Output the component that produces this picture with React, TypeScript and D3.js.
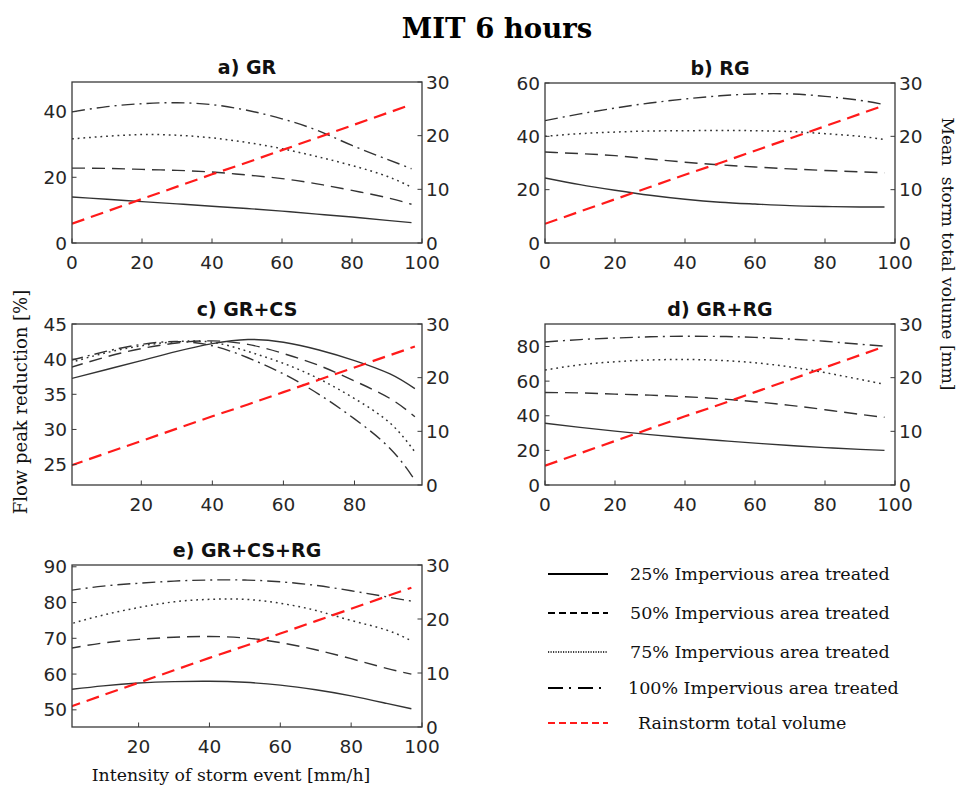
import React from 'react';
import * as d3 from 'd3';

// Intensity of storm event [mm/h]
const INTENSITY = [0, 10, 20, 30, 40, 50, 60, 70, 80, 90, 97];
// Mean storm total volume [mm] (right axis)
const RAIN_VOLUME = [3.6, 5.9, 8.2, 10.5, 12.8, 15.0, 17.3, 19.6, 21.9, 24.2, 25.8];

// a) GR
const GR_25 = [14.0, 13.3, 12.6, 11.9, 11.2, 10.5, 9.7, 8.8, 7.9, 6.9, 6.2];
const GR_50 = [22.8, 22.7, 22.4, 22.1, 21.6, 20.7, 19.6, 18.0, 16.0, 13.8, 11.8];
const GR_75 = [31.7, 32.5, 33.0, 32.8, 32.0, 30.6, 28.7, 26.3, 23.6, 20.3, 17.0];
const GR_100 = [39.9, 41.5, 42.4, 42.7, 42.1, 40.4, 37.8, 34.3, 29.7, 25.5, 22.6];
// b) RG
const RG_25 = [24.4, 21.9, 19.8, 17.9, 16.4, 15.3, 14.6, 14.0, 13.7, 13.5, 13.5];
const RG_50 = [34.1, 33.5, 32.75, 31.5, 30.3, 29.3, 28.5, 27.8, 27.2, 26.7, 26.3];
const RG_75 = [40.0, 41.0, 41.6, 42.0, 42.1, 42.2, 42.1, 41.8, 41.0, 40.0, 38.8];
const RG_100 = [45.9, 48.4, 50.6, 52.5, 54.0, 55.2, 55.9, 55.9, 55.0, 53.5, 51.9];
// c) GR+CS
const GRCS_25 = [37.2, 38.5, 39.8, 41.1, 42.2, 42.8, 42.4, 41.3, 39.8, 37.9, 35.8];
const GRCS_50 = [38.8, 40.3, 41.5, 42.3, 42.6, 42.1, 40.8, 39.1, 36.9, 34.4, 31.8];
const GRCS_75 = [39.5, 40.9, 41.9, 42.5, 42.4, 41.1, 39.4, 37.2, 34.4, 30.9, 26.8];
const GRCS_100 = [39.8, 41.1, 42.1, 42.5, 41.9, 40.2, 37.9, 35.0, 31.5, 27.3, 22.8];
// d) GR+RG
const GRRG_25 = [35.7, 33.3, 31.1, 29.1, 27.3, 25.7, 24.2, 22.8, 21.6, 20.6, 20.0];
const GRRG_50 = [53.4, 53.2, 52.5, 51.9, 51.0, 49.8, 48.1, 46.0, 43.5, 40.8, 39.1];
const GRRG_75 = [66.4, 69.4, 71.2, 72.2, 72.5, 72.0, 70.6, 68.2, 64.9, 61.0, 58.2];
const GRRG_100 = [82.6, 84.0, 84.9, 85.6, 85.9, 85.8, 85.3, 84.3, 83.0, 81.3, 80.2];
// e) GR+CS+RG
const GRCSRG_25 = [55.6, 56.7, 57.5, 57.9, 58.0, 57.7, 56.9, 55.6, 53.9, 51.8, 50.3];
const GRCSRG_50 = [67.1, 68.7, 69.7, 70.3, 70.5, 70.1, 68.8, 66.8, 64.3, 61.6, 60.0];
const GRCSRG_75 = [73.8, 76.5, 78.6, 80.2, 80.9, 80.9, 79.8, 77.8, 75.0, 72.3, 69.3];
const GRCSRG_100 = [83.3, 84.6, 85.4, 86.0, 86.3, 86.3, 85.8, 84.8, 83.3, 81.6, 80.4];

const LEGEND_LABELS = [
  '25% Impervious area treated',
  '50% Impervious area treated',
  '75% Impervious area treated',
  '100% Impervious area treated',
  'Rainstorm total volume',
];
const RIGHT_TICKS = [0, 10, 20, 30];

const STYLES = [
  { dash: undefined as string | undefined, w: 1.4 },
  { dash: '13,7', w: 1.4 },
  { dash: '1.8,3.9', w: 1.5 },
  { dash: '13,5,2,5', w: 1.4 },
];
const LEGEND_DASH = [undefined, '7,4', '1.2,1.3', '15,6,2,7', '7,4'];

const CURVE_COLOR = '#333333';
const AXIS_COLOR = '#3a3a3a';
const TICK_TEXT = '#262626';
const SANS = 'DejaVu Sans, Liberation Sans, sans-serif';
const SERIF = 'DejaVu Serif, Liberation Serif, serif';

type Box = { l: number; r: number; t: number; b: number };

function Panel(props: {
  id: string;
  box: Box;
  title: string;
  series: number[][];
  yDomain: [number, number];
  yTicks: number[];
  xDomain: [number, number];
  xTicks: number[];
}) {
  const { id, box, title, series, yDomain, yTicks, xDomain, xTicks } = props;
  const x = d3.scaleLinear().domain(xDomain).range([box.l, box.r]);
  const y = d3.scaleLinear().domain(yDomain).range([box.b, box.t]);
  const y2 = d3.scaleLinear().domain([0, 30]).range([box.b, box.t]);
  const line = d3
    .line<number>()
    .x((_, i) => x(INTENSITY[i]))
    .y((d) => y(d))
    .curve(d3.curveNatural);
  const rainLine = d3
    .line<number>()
    .x((_, i) => x(INTENSITY[i]))
    .y((d) => y2(d));
  const tick = 4.5;
  return (
    <g>
      <defs>
        <clipPath id={`clip-${id}`}>
          <rect x={box.l} y={box.t} width={box.r - box.l} height={box.b - box.t} />
        </clipPath>
      </defs>
      <text
        x={(box.l + box.r) / 2}
        y={box.t - 8}
        textAnchor="middle"
        fontFamily={SANS}
        fontWeight="bold"
        fontSize={19}
        fill="#111"
      >
        {title}
      </text>
      <g clipPath={`url(#clip-${id})`}>
        {series.map((s, k) => (
          <path
            key={k}
            d={line(s) || ''}
            fill="none"
            stroke={CURVE_COLOR}
            strokeWidth={STYLES[k].w}
            strokeDasharray={STYLES[k].dash}
          />
        ))}
        <path d={rainLine(RAIN_VOLUME) || ''} fill="none" stroke="#ff1a1a" strokeWidth={2.2} strokeDasharray="13,7" />
      </g>
      <rect
        x={box.l}
        y={box.t}
        width={box.r - box.l}
        height={box.b - box.t}
        fill="none"
        stroke={AXIS_COLOR}
        strokeWidth={1.3}
      />
      {yTicks.map((v) => (
        <g key={`yl${v}`}>
          <line x1={box.l} x2={box.l + tick} y1={y(v)} y2={y(v)} stroke={AXIS_COLOR} strokeWidth={1} />
          <text
            x={box.l - 5}
            y={y(v)}
            dy="0.36em"
            textAnchor="end"
            fontFamily={SANS}
            fontSize={18.5}
            fill={TICK_TEXT}
          >
            {v}
          </text>
        </g>
      ))}
      {RIGHT_TICKS.map((v) => (
        <g key={`yr${v}`}>
          <line x1={box.r} x2={box.r - tick} y1={y2(v)} y2={y2(v)} stroke={AXIS_COLOR} strokeWidth={1} />
          <text
            x={box.r + 4}
            y={y2(v)}
            dy="0.36em"
            textAnchor="start"
            fontFamily={SANS}
            fontSize={18.5}
            fill={TICK_TEXT}
          >
            {v}
          </text>
        </g>
      ))}
      {xTicks.map((v) => (
        <g key={`x${v}`}>
          <line x1={x(v)} x2={x(v)} y1={box.b} y2={box.b - tick} stroke={AXIS_COLOR} strokeWidth={1} />
          <text
            x={x(v)}
            y={box.b + 25.5}
            textAnchor="middle"
            fontFamily={SANS}
            fontSize={18.5}
            fill={TICK_TEXT}
          >
            {v}
          </text>
        </g>
      ))}
    </g>
  );
}

export default function App() {
  const W = 962;
  const H = 789;
  const legendYs = [574, 613, 652, 688, 723];
  const legendTextX = [630, 630, 630, 628, 638];
  return (
    <svg
      width={W}
      height={H}
      viewBox={`0 0 ${W} ${H}`}
      style={{ position: 'absolute', left: 0, top: 0, background: '#fff' }}
    >
      <rect width={W} height={H} fill="#fff" />
      <text x={497} y={38} textAnchor="middle" fontFamily={SERIF} fontWeight="bold" fontSize={27.5} fill="#000">
        MIT 6 hours
      </text>
      <Panel
        id="a"
        box={{ l: 72, r: 422, t: 82, b: 243 }}
        title="a) GR"
        series={[GR_25, GR_50, GR_75, GR_100]}
        yDomain={[0, 49]}
        yTicks={[0, 20, 40]}
        xDomain={[0, 100]}
        xTicks={[0, 20, 40, 60, 80, 100]}
      />
      <Panel
        id="b"
        box={{ l: 545, r: 895, t: 83, b: 243 }}
        title="b) RG"
        series={[RG_25, RG_50, RG_75, RG_100]}
        yDomain={[0, 60]}
        yTicks={[0, 20, 40, 60]}
        xDomain={[0, 100]}
        xTicks={[0, 20, 40, 60, 80, 100]}
      />
      <Panel
        id="c"
        box={{ l: 72, r: 422, t: 324, b: 485 }}
        title="c) GR+CS"
        series={[GRCS_25, GRCS_50, GRCS_75, GRCS_100]}
        yDomain={[22.1, 45]}
        yTicks={[25, 30, 35, 40, 45]}
        xDomain={[0.5, 99]}
        xTicks={[20, 40, 60, 80]}
      />
      <Panel
        id="d"
        box={{ l: 545, r: 895, t: 324, b: 485 }}
        title="d) GR+RG"
        series={[GRRG_25, GRRG_50, GRRG_75, GRRG_100]}
        yDomain={[0, 93]}
        yTicks={[0, 20, 40, 60, 80]}
        xDomain={[0, 100]}
        xTicks={[0, 20, 40, 60, 80, 100]}
      />
      <Panel
        id="e"
        box={{ l: 72, r: 422, t: 565, b: 727 }}
        title="e) GR+CS+RG"
        series={[GRCSRG_25, GRCSRG_50, GRCSRG_75, GRCSRG_100]}
        yDomain={[45.2, 90.5]}
        yTicks={[50, 60, 70, 80, 90]}
        xDomain={[1.2, 100]}
        xTicks={[20, 40, 60, 80, 100]}
      />
      <text
        transform="translate(27,402) rotate(-90)"
        textAnchor="middle"
        fontFamily={SERIF}
        fontSize={18}
        fill="#111"
      >
        Flow peak reduction [%]
      </text>
      <text
        transform="translate(942,254) rotate(90)"
        textAnchor="middle"
        fontFamily={SERIF}
        fontSize={17}
        fill="#111"
        style={{ whiteSpace: 'pre' }}
      >
        {'Mean  storm total volume [mm]'}
      </text>
      <text x={231} y={781} textAnchor="middle" fontFamily={SERIF} fontSize={17.3} fill="#111">
        Intensity of storm event [mm/h]
      </text>
      {LEGEND_LABELS.map((lab, i) => (
        <g key={lab}>
          <line
            x1={548}
            x2={608}
            y1={legendYs[i]}
            y2={legendYs[i]}
            stroke={i === 4 ? '#ff1a1a' : '#000'}
            strokeWidth={i === 2 ? 1.6 : 2}
            strokeDasharray={LEGEND_DASH[i]}
          />
          <text
            x={legendTextX[i]}
            y={legendYs[i]}
            dy="0.33em"
            fontFamily={SERIF}
            fontSize={17.5}
            fill="#111"
          >
            {lab}
          </text>
        </g>
      ))}
    </svg>
  );
}
